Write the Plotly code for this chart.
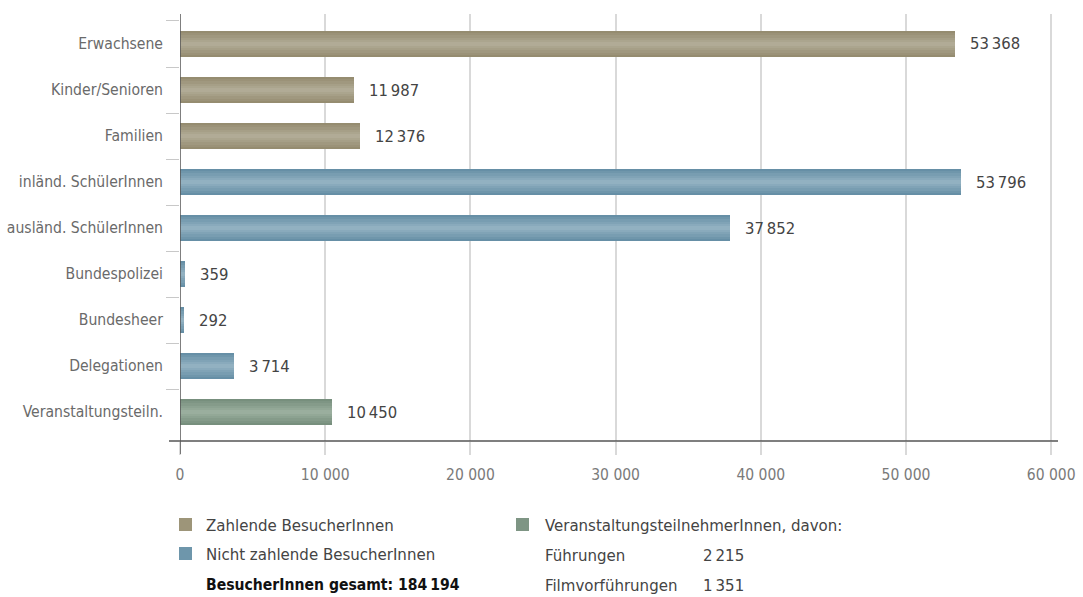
import plotly.graph_objects as go

# --- data -------------------------------------------------------------
categories = [
    "Erwachsene", "Kinder/Senioren", "Familien",
    "inländ. SchülerInnen", "ausländ. SchülerInnen",
    "Bundespolizei", "Bundesheer", "Delegationen",
    "Veranstaltungsteiln.",
]
visitors = [53368, 11987, 12376, 53796, 37852, 359, 292, 3714, 10450]
group = ["paid", "paid", "paid", "free", "free", "free", "free", "free", "event"]

group_labels = {
    "paid": "Zahlende BesucherInnen",
    "free": "Nicht zahlende BesucherInnen",
    "event": "VeranstaltungsteilnehmerInnen, davon:",
}
event_breakdown_labels = ["Führungen", "Filmvorführungen"]
event_breakdown_values = [2215, 1351]

x_ticks = [0, 10000, 20000, 30000, 40000, 50000, 60000]

# --- styling ----------------------------------------------------------
FONT = "DejaVu Sans Condensed, sans-serif"
W, H = 1083, 597
L, R, T, B = 180, 1058, 14, 441          # plot area in px

edge_col = {"paid": (0x95, 0x8c, 0x70), "free": (0x66, 0x8f, 0xa6), "event": (0x77, 0x8f, 0x7d)}
mid_col = {"paid": (0xb1, 0xab, 0x96), "free": (0x92, 0xb1, 0xc1), "event": (0x9a, 0xae, 0x9e)}
swatch_col = {"paid": "#9d9579", "free": "#6e96ab", "event": "#7e9584"}


def fmt(v):
    return f"{v:,}".replace(",", "\u2009")


def blend(a, b, t):
    c = [round(a[i] + (b[i] - a[i]) * t) for i in range(3)]
    return f"rgb({c[0]},{c[1]},{c[2]})"


def px_x(px):
    return (px - L) / (R - L)


def px_y(py):
    return (B - py) / (B - T)


fig = go.Figure()

# bars: stacked overlays of narrowing width give a rounded, shaded look
widths = [0.58, 0.48, 0.38, 0.28, 0.18, 0.08]
for i, w in enumerate(widths):
    t = i / (len(widths) - 1)
    fig.add_trace(go.Bar(
        x=visitors, y=categories, orientation="h", width=w,
        marker=dict(color=[blend(edge_col[g], mid_col[g], t) for g in group], line_width=0),
        hoverinfo="skip", showlegend=False,
    ))

# value labels at bar ends
for cat, v in zip(categories, visitors):
    fig.add_annotation(x=v, y=cat, text=fmt(v), showarrow=False, xanchor="left",
                       xshift=13, font=dict(family=FONT, size=16.5, color="#444444"))

shapes = []
# x axis line (extends left past the value axis)
shapes.append(dict(type="line", xref="paper", yref="paper", x0=px_x(169), x1=1,
                   y0=0, y1=0, line=dict(color="#555555", width=1.5)))
# vertical axis at zero
shapes.append(dict(type="line", xref="x", yref="paper", x0=0, x1=0,
                   y0=px_y(454), y1=1, line=dict(color="#555555", width=1.5)))

# legend swatches
legend_rows = [("paid", 179, 518), ("free", 179, 547), ("event", 516, 518)]
for g, x0, y0 in legend_rows:
    shapes.append(dict(type="rect", xref="paper", yref="paper",
                       x0=px_x(x0), x1=px_x(x0 + 13), y0=px_y(y0 + 13), y1=px_y(y0),
                       fillcolor=swatch_col[g], line_width=0))

legend_font = dict(family=FONT, size=16.7, color="#444444")


def legend_text(text, x, y, font=None):
    fig.add_annotation(xref="paper", yref="paper", x=px_x(x), y=px_y(y), text=text,
                       showarrow=False, xanchor="left", yanchor="middle",
                       font=font or legend_font)


legend_text(group_labels["paid"], 204, 525)
legend_text(group_labels["free"], 204, 554)
legend_text(f"BesucherInnen gesamt: {fmt(sum(visitors))}", 204, 585,
            font=dict(family=FONT, size=15.6, color="#111111", weight=600))
legend_text(group_labels["event"], 543, 525)
for (lab, val), yy in zip(zip(event_breakdown_labels, event_breakdown_values), [555, 585]):
    legend_text(lab, 543, yy)
    legend_text(fmt(val), 701, yy)

fig.update_layout(
    width=W, height=H,
    margin=dict(l=L, r=W - R, t=T, b=H - B, pad=0, autoexpand=False),
    plot_bgcolor="white", paper_bgcolor="white",
    barmode="overlay", bargap=0,
    separators=", ",
    shapes=shapes,
    showlegend=False,
    xaxis=dict(
        range=[0, 60468], tickvals=x_ticks, tickformat=",d",
        showgrid=True, gridcolor="#d9d9d9", gridwidth=1.5,
        zeroline=False, showline=False, automargin=False,
        ticks="outside", ticklen=13, tickcolor="#d9d9d9", tickwidth=1.5,
        ticklabelstandoff=6,
        tickfont=dict(family=FONT, size=15.5, color="#7a7a7a"),
        fixedrange=True,
    ),
    yaxis=dict(
        type="category", categoryorder="array", categoryarray=categories,
        range=[8.63, -0.652], automargin=False,
        showgrid=False, zeroline=False, showline=False,
        ticks="outside", tickson="boundaries", ticklen=13, tickcolor="#c8c8c8", tickwidth=1,
        ticklabelstandoff=16,
        tickfont=dict(family=FONT, size=15.6, color="#6a6a6a"),
        fixedrange=True,
    ),
)

fig.write_html("out.html")
